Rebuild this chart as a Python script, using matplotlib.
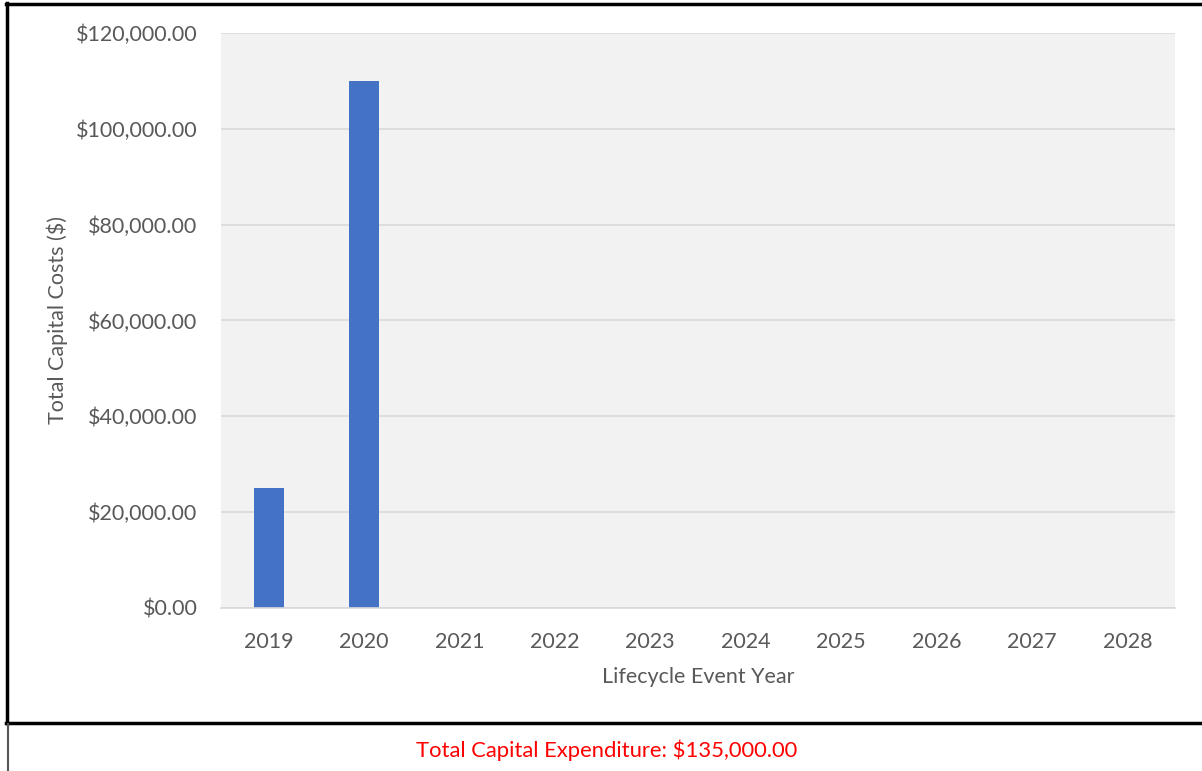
import matplotlib
matplotlib.use("Agg")
import matplotlib.pyplot as plt
from matplotlib.lines import Line2D
from matplotlib.ticker import FuncFormatter

years = ["2019", "2020", "2021", "2022", "2023", "2024", "2025", "2026", "2027", "2028"]
capital_costs = [25000, 110000, 0, 0, 0, 0, 0, 0, 0, 0]
y_ticks = [0, 20000, 40000, 60000, 80000, 100000, 120000]
total_label = "Total Capital Expenditure: $135,000.00"

plt.rcParams["font.family"] = ["Lato", "DejaVu Sans"]

W, H = 1202, 771
FS = 15.5
TXT = "#595959"
fig = plt.figure(figsize=(W / 100, H / 100), dpi=100)

ax = fig.add_axes([221 / W, 1 - 608 / H, (1175 - 221) / W, (608 - 33) / H])
ax.set_facecolor("#f2f2f2")
x = list(range(len(years)))
ax.bar(x, capital_costs, width=0.315, color="#4472c4", zorder=3)
ax.set_xlim(-0.5, len(years) - 0.5)
ax.set_ylim(0, 120000)
ax.set_yticks(y_ticks)
ax.yaxis.set_major_formatter(FuncFormatter(lambda v, p: f"${v:,.2f}"))
ax.set_xticks(x)
ax.set_xticklabels(years)
ax.grid(axis="y", color="#d9d9d9", linewidth=1.2, zorder=0)
for s in ["left", "right", "top"]:
    ax.spines[s].set_visible(False)
ax.spines["bottom"].set_color("#d9d9d9")
ax.spines["bottom"].set_linewidth(1.2)
ax.spines["bottom"].set_zorder(4)
ax.tick_params(axis="both", length=0, labelsize=FS, labelcolor=TXT)
ax.tick_params(axis="y", pad=17)
ax.tick_params(axis="x", pad=17)

# axis titles
fig.text(57 / W, 1 - 320 / H, "Total Capital Costs ($)", rotation=90, ha="center", va="center",
         fontsize=FS, color=TXT)
fig.text(698 / W, 1 - 677 / H, "Lifecycle Event Year", ha="center", va="center",
         fontsize=FS, color=TXT)

# frame lines around the chart and summary row
def fig_line(xs, ys, lw, color="black"):
    fig.add_artist(Line2D([v / W for v in xs], [1 - v / H for v in ys], lw=lw, color=color,
                          transform=fig.transFigure))

fig_line([6, W], [4, 4], 2.5)
fig_line([7, 7], [3, 723], 2.5)
fig_line([6, W], [723, 723], 2.5)
fig_line([8, 8], [724, H], 1.5, color="#555555")

fig.text(607 / W, 1 - 750 / H, total_label, ha="center", va="center", fontsize=15.8, color="#ff0000")

fig.savefig("out.png", dpi=100)
